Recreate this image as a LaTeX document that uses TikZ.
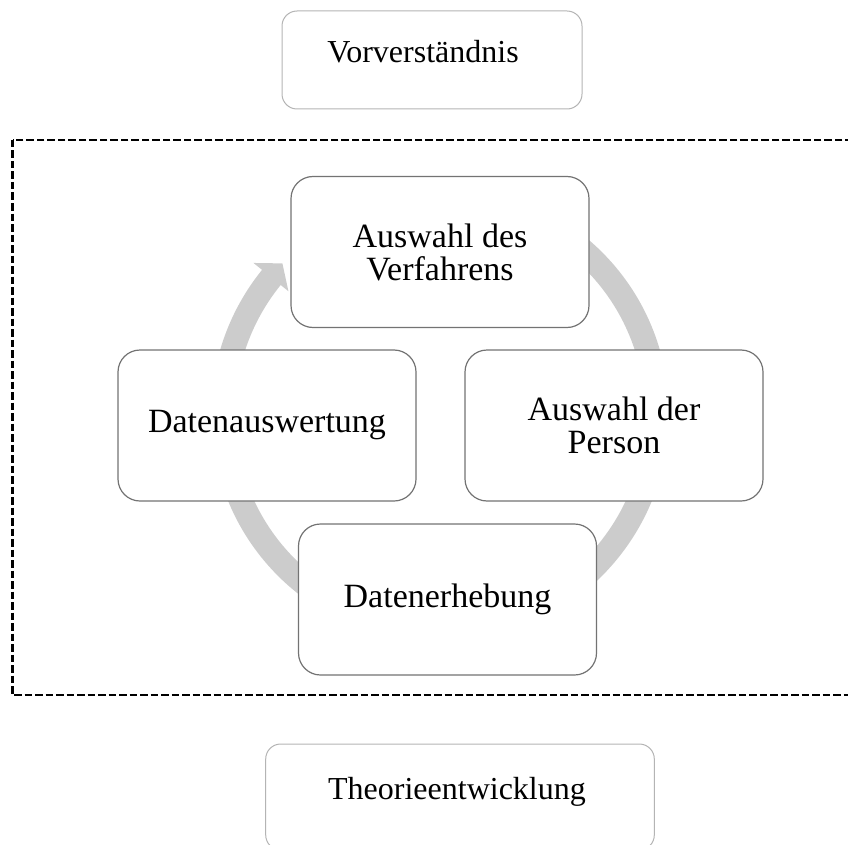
\documentclass[tikz,border=0pt]{standalone}
\usepackage{fontspec}
\setmainfont{Liberation Serif}
\usetikzlibrary{calc}
\definecolor{ringgray}{HTML}{CCCCCC}
\definecolor{framegray}{HTML}{737373}
\definecolor{outergray}{HTML}{B4B4B4}
\begin{document}
\begin{tikzpicture}[x=1pt,y=-1pt,
  stage/.style={draw=framegray, line width=1.2pt, fill=white, rounded corners=22pt,
    minimum width=298pt, minimum height=151pt, inner sep=0pt, align=center,
    font=\fontsize{34}{33}\selectfont},
  outerbox/.style={draw=outergray, line width=1pt, fill=white, rounded corners=15pt, inner sep=0pt},
  outertext/.style={anchor=base, inner sep=0pt, font=\fontsize{32}{36}\selectfont},
  frame/.style={draw=black, line width=2.6pt, dash pattern=on 7.5pt off 3pt}]
\useasboundingbox (0,0) rectangle (848,845);
\clip (0,0) rectangle (848,845);

% research cycle: circular arrow behind the four stages
\coordinate (hub) at (440,414);
\fill[ringgray] ($(hub)+(-100:229)$) arc[start angle=-100, end angle=219, radius=229]
  -- ($(hub)+(219:240)$) -- ($(hub)+(223.7:218)$) -- ($(hub)+(219:195)$)
  -- ($(hub)+(219:205)$) arc[start angle=219, end angle=-100, radius=205] -- cycle;

% the four stages of the cycle
\node[stage] (verf)  at (440,252)     {Auswahl des\\Verfahrens};
\node[stage] (pers)  at (614,425.5)   {Auswahl der\\Person};
\node[stage] (erheb) at (447.5,599.5) {Datenerhebung};
\node[stage] (ausw)  at (267,425.5)   {Datenauswertung};

% dashed frame around the cycle (open to the right)
\draw[frame] (12.7,140) rectangle (870,695);

% preliminary understanding and theory development
\node[outerbox, minimum width=300pt, minimum height=98pt] (vor) at (432,60) {};
\node[outertext] (vortext) at (423,63) {Vorverständnis};
\node[outerbox, minimum width=388.6pt, minimum height=106pt] (theo) at (460,797) {};
\node[outertext] (theotext) at (457,799) {Theorieentwicklung};
\end{tikzpicture}
\end{document}
